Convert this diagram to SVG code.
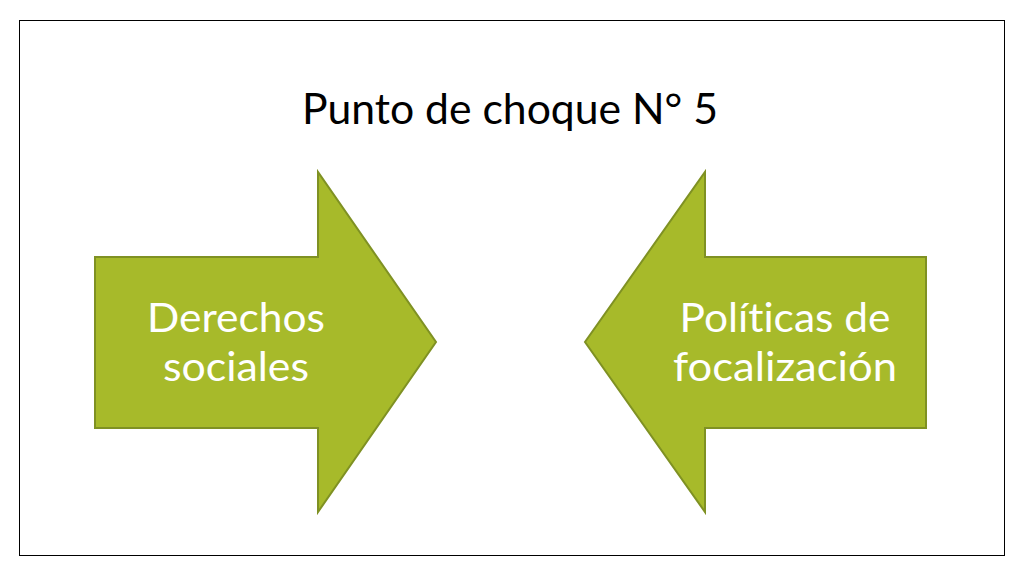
<svg xmlns="http://www.w3.org/2000/svg" width="1024" height="576" viewBox="0 0 1024 576">
<style>
.arrow{fill:#a7ba2a;stroke:#7f9123;stroke-width:2;stroke-linejoin:miter}
.lbl{font-family:Lato,"Open Sans",sans-serif;font-size:40px;fill:#ffffff;text-anchor:middle;font-variant-ligatures:none}
.title{font-family:Lato,"Open Sans",sans-serif;font-size:43px;fill:#000000;text-anchor:middle;font-variant-ligatures:none}
</style>
<rect x="0" y="0" width="1024" height="576" fill="#ffffff"/>
<rect x="19.5" y="20.5" width="985" height="535" fill="#ffffff" stroke="#000000" stroke-width="1"/>
<g id="title"><text class="title" x="510" y="124" textLength="416" lengthAdjust="spacingAndGlyphs">Punto de choque N° 5</text></g>
<g id="node-derechos">
<path class="arrow" d="M95,257 H318 V172 L436,342 L318,512 V428 H95 Z"/>
<text class="lbl" x="236" y="332" textLength="178" lengthAdjust="spacingAndGlyphs">Derechos</text>
<text class="lbl" x="236" y="381" textLength="146" lengthAdjust="spacingAndGlyphs">sociales</text>
</g>
<g id="node-politicas">
<path class="arrow" d="M926,257 H705 V172 L585,342 L705,512 V428 H926 Z"/>
<text class="lbl" x="785" y="332" textLength="211" lengthAdjust="spacingAndGlyphs">Políticas de</text>
<text class="lbl" x="785" y="381" textLength="224" lengthAdjust="spacingAndGlyphs">focalización</text>
</g>
<g id="connectors"></g>
</svg>
